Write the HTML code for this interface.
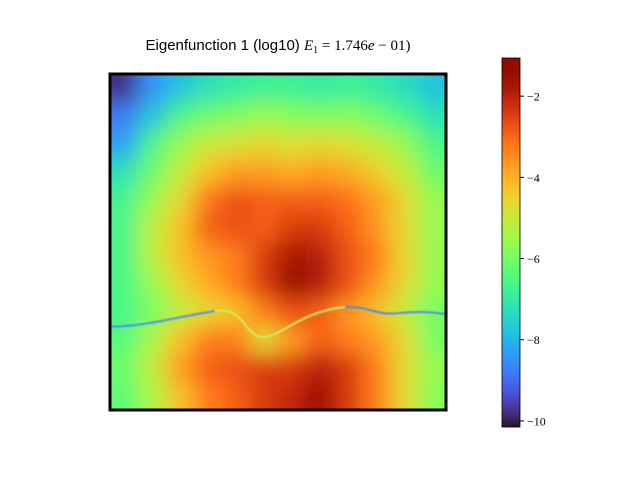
<!DOCTYPE html>
<html><head><meta charset="utf-8"><style>
body{margin:0;background:#fff;width:640px;height:480px;overflow:hidden;font-family:"Liberation Sans",sans-serif}
</style></head><body>
<svg id="fig" width="640" height="480">
<defs>
<filter id="blur" x="-10%" y="-10%" width="120%" height="120%"><feGaussianBlur stdDeviation="11" edgeMode="duplicate"/></filter>
<filter id="lblur"><feGaussianBlur stdDeviation="0.7"/></filter>
<clipPath id="clip"><rect x="110" y="74" width="336" height="336"/></clipPath>
<linearGradient id="cbgrad" x1="0" y1="1" x2="0" y2="0"></linearGradient>
</defs>
<text x="278" y="50" text-anchor="middle" font-size="15">Eigenfunction 1 (log10) <tspan font-family="Liberation Serif" font-style="italic">E</tspan><tspan font-family="Liberation Serif" font-size="10" dy="3">1</tspan><tspan font-family="Liberation Serif" dy="-3"> = 1.746</tspan><tspan font-family="Liberation Serif" font-style="italic">e</tspan><tspan font-family="Liberation Serif"> − 01)</tspan></text>
<g clip-path="url(#clip)">
<g id="cells" filter="url(#blur)"></g>
<g id="seam" filter="url(#lblur)"></g>
</g>
<rect x="110" y="74" width="336" height="336" fill="none" stroke="#000" stroke-width="3"/>
<rect x="502" y="58" width="18" height="369" fill="url(#cbgrad)" stroke="#000" stroke-width="0.8"/>
<g id="cbticks"></g>
</svg>
<script>
const rows = [
[-9.8,-8.5,-7.8,-7.2,-7,-6.8,-6.8,-7,-6.8,-7,-7.3,-7.8],
[-8.8,-7.8,-6.6,-6.1,-5.9,-5.6,-5.8,-5.9,-5.8,-6.1,-6.6,-7.2],
[-8.3,-6.6,-5.6,-5.0,-4.8,-4.6,-4.8,-4.6,-4.8,-5.1,-5.6,-6.6],
[-7.2,-6.1,-5.1,-4.2,-3.7,-3.7,-3.9,-3.7,-3.9,-4.4,-5.1,-6.1],
[-6.7,-5.6,-4.6,-3.2,-2.7,-2.9,-2.9,-2.9,-3.1,-3.7,-4.6,-5.6],
[-6.6,-5.2,-4.2,-2.9,-2.7,-2.9,-2.4,-2.4,-2.9,-3.6,-4.6,-5.6],
[-6.6,-5.2,-4.2,-3.6,-3.3,-2.4,-1.7,-1.9,-2.7,-3.3,-4.5,-5.6],
[-6.6,-5.6,-4.6,-3.9,-3.3,-2.4,-1.3,-1.9,-2.7,-3.6,-4.6,-5.6],
[-6.6,-6.0,-5.1,-4.6,-4.2,-3.3,-2.7,-2.9,-3.6,-4.2,-5.1,-6.0],
[-6.4,-5.4,-4.2,-3.3,-3.3,-4.6,-3.7,-2.9,-3.3,-3.7,-4.6,-6.0],
[-6.1,-5.1,-3.7,-2.9,-2.7,-2.4,-2.4,-1.9,-2.4,-3.3,-4.6,-5.6],
[-6.3,-5.4,-4.2,-3.3,-2.9,-2.4,-2.1,-1.5,-2.4,-3.3,-4.6,-5.8]
];
const ticks = [-2,-4,-6,-8,-10];
const vmin=-10.15, vmax=-1.06;
const NS="http://www.w3.org/2000/svg";
function turbo(t){t=Math.max(0,Math.min(1,t));
const r=0.13572138+t*(4.61539260+t*(-42.66032258+t*(132.13108234+t*(-152.94239396+t*59.28637943))));
const g=0.09140261+t*(2.19418839+t*(4.84296658+t*(-14.18503333+t*(4.27729857+t*2.82956604))));
const b=0.10667330+t*(12.64194608+t*(-60.58204836+t*(110.36276771+t*(-89.90310912+t*27.34824973))));
const c=v=>Math.round(255*Math.max(0,Math.min(1,v)));return `rgb(${c(r)},${c(g)},${c(b)})`;}
const col=v=>turbo((v-vmin)/(vmax-vmin));
const x0=110,y0=74,W=336,n=rows.length,cw=W/n;
const cells=document.getElementById('cells');
rows.forEach((row,i)=>row.forEach((v,j)=>{
 const r=document.createElementNS(NS,'rect');
 r.setAttribute('x',x0+j*cw-(j==0?20:0));r.setAttribute('y',y0+i*cw-(i==0?20:0));
 r.setAttribute('width',cw+1+(j==0||j==n-1?20:0));r.setAttribute('height',cw+1+(i==0||i==n-1?20:0));
 r.setAttribute('fill',col(v));
 
 
 cells.appendChild(r);}));
const seam=document.getElementById('seam');
[["M105,327 C150,326 170,318 215,311","#4a90f0"],["M215,311 C245,305 245,340 265,337 C285,334 300,312 345,307","#c8f060"],["M345,307 C370,306 375,316 400,313 C420,311 435,312 450,315","#4a8cf0"]].forEach(([d,c])=>{
 const p=document.createElementNS(NS,'path');p.setAttribute('d',d);p.setAttribute('stroke',c);p.setAttribute('stroke-width','2');p.setAttribute('fill','none');
 
 
 seam.appendChild(p);});
const grad=document.getElementById('cbgrad');
for(let k=0;k<=40;k++){const s=document.createElementNS(NS,'stop');s.setAttribute('offset',k/40);s.setAttribute('stop-color',turbo(k/40));grad.appendChild(s);}
const cbt=document.getElementById('cbticks');
const cy=v=>427-(v-vmin)/(vmax-vmin)*369;
ticks.forEach(v=>{
 const l=document.createElementNS(NS,'line');l.setAttribute('x1',520);l.setAttribute('x2',524);l.setAttribute('y1',cy(v));l.setAttribute('y2',cy(v));l.setAttribute('stroke','#000');
 
 
 cbt.appendChild(l);
 const t=document.createElementNS(NS,'text');t.setAttribute('x',527);t.setAttribute('y',cy(v)+4.5);t.setAttribute('font-size','12');t.setAttribute('font-family','Liberation Serif');
 t.textContent='−'+Math.abs(v);
 
 
 cbt.appendChild(t);});
</script>
</body></html>
